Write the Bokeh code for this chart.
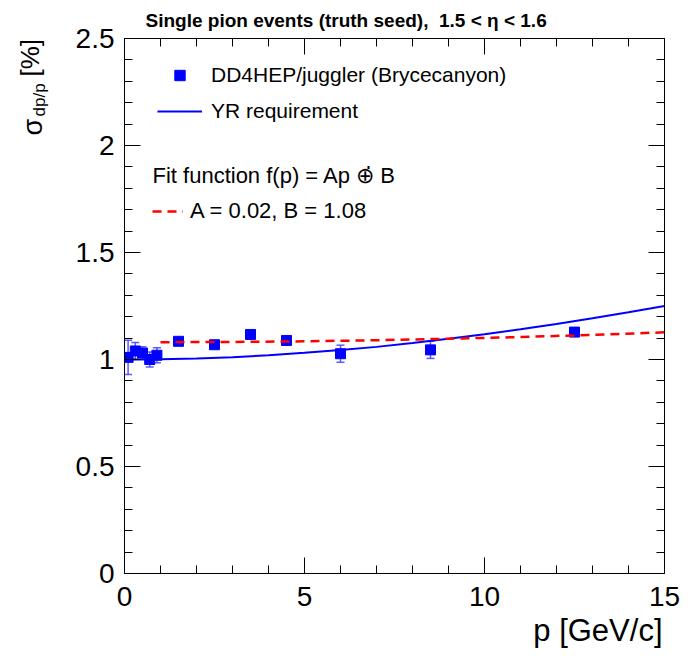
import math
from bokeh.plotting import figure
from bokeh.layouts import row
from bokeh.models import (Range1d, LinearAxis, FixedTicker, CustomJSTickFormatter,
                          Whisker, ColumnDataSource, TeeHead, Legend, LegendItem, Label, Title)
from bokeh.core.properties import value
from bokeh.embed import file_html
from bokeh.resources import INLINE

# ---------------- data ----------------
p_vals = [0.1, 0.3, 0.5, 0.7, 0.9, 1.5, 2.5, 3.5, 4.5, 6.0, 8.5, 12.5]
sigma_vals = [1.01, 1.04, 1.03, 1.00, 1.02, 1.085, 1.069, 1.117, 1.089, 1.027, 1.045, 1.128]
sigma_err = [0.08, 0.04, 0.03, 0.035, 0.035, 0.01, 0.01, 0.01, 0.01, 0.04, 0.04, 0.015]

yr_p = [0, 1, 2, 3, 4, 5, 6, 7, 8, 9, 10, 11, 12, 13, 14, 15]
yr_vals = [1.000, 1.001, 1.005, 1.011, 1.020, 1.031, 1.044, 1.059, 1.077, 1.097,
           1.118, 1.141, 1.166, 1.193, 1.221, 1.250]

fit_p = [1, 3, 5, 7, 9, 11, 13, 15]
fit_vals = [1.081, 1.082, 1.085, 1.090, 1.097, 1.105, 1.115, 1.127]

x_ticks = [0, 5, 10, 15]
x_minor = [0, 1, 2, 3, 4, 5, 6, 7, 8, 9, 10, 11, 12, 13, 14, 15]
x_tick_labels = ["0", "5", "10", "15"]
y_ticks = [0, 0.5, 1.0, 1.5, 2.0, 2.5]
y_minor = [i / 10 for i in range(26)]
y_tick_labels = ["0", "0.5", "1", "1.5", "2", "2.5"]

title_text = "Single pion events (truth seed),\u00a0 1.5 < \u03b7 < 1.6"
x_title = "p [GeV/c]"
y_title_parts = ["\u03c3", "dp/p", "[%]"]
legend_labels = ["DD4HEP/juggler (Brycecanyon)", "YR requirement"]
fit_text = "Fit function f(p) = Ap \u2295\u0307 B"
fit_label = "A = 0.02, B = 1.08"

FONT = "Liberation Sans"
TOTAL_H = 659
LEFT_W = 60
FRAME_TOP = 38
FRAME_BOTTOM = 573

# ---------------- main figure ----------------
p = figure(width=620, height=TOTAL_H, x_range=Range1d(0, 15), y_range=Range1d(0, 2.5),
           output_backend="svg", toolbar_location=None,
           min_border_left=124 - LEFT_W, min_border_right=16,
           min_border_top=FRAME_TOP, min_border_bottom=TOTAL_H - FRAME_BOTTOM)
p.xgrid.visible = False
p.ygrid.visible = False
p.outline_line_color = "black"
p.outline_line_width = 1
p.background_fill_color = "white"
p.border_fill_color = "white"


def style_axis(ax, ticks, minor, labels=None, standoff=10):
    ax.ticker = FixedTicker(ticks=ticks, minor_ticks=minor)
    ax.major_tick_in = 16
    ax.major_tick_out = 0
    ax.minor_tick_in = 8
    ax.minor_tick_out = 0
    ax.axis_line_color = "black"
    ax.axis_line_width = 1
    ax.major_tick_line_color = "black"
    ax.minor_tick_line_color = "black"
    ax.major_label_text_font = FONT
    ax.major_label_text_color = "black"
    ax.major_label_standoff = standoff
    if labels is not None:
        ax.formatter = CustomJSTickFormatter(
            args=dict(tv=ticks, labels=labels),
            code="const i = tv.indexOf(tick); return i >= 0 ? labels[i] : '';")
        ax.major_label_text_font_size = "28px"
    else:
        ax.formatter = CustomJSTickFormatter(code="return '';")
        ax.major_label_text_font_size = "1px"


style_axis(p.xaxis[0], x_ticks, x_minor, x_tick_labels, standoff=13)
style_axis(p.yaxis[0], y_ticks, y_minor, y_tick_labels, standoff=10)
top_ax = LinearAxis()
right_ax = LinearAxis()
style_axis(top_ax, x_ticks, x_minor, None, standoff=0)
style_axis(right_ax, y_ticks, y_minor, None, standoff=0)
p.add_layout(top_ax, "above")
p.add_layout(right_ax, "right")

# titles
p.add_layout(Title(text=title_text, align="left", offset=21, standoff=15,
                   text_font=FONT, text_font_size="19px", text_font_style="bold",
                   text_color="black"), "above")
p.add_layout(Title(text=x_title, align="right", offset=2, standoff=4,
                   text_font=FONT, text_font_size="31px", text_font_style="normal",
                   text_color="black"), "below")

# ---------------- glyphs ----------------
src = ColumnDataSource(dict(
    p=p_vals, s=sigma_vals,
    lo=[s - e for s, e in zip(sigma_vals, sigma_err)],
    hi=[s + e for s, e in zip(sigma_vals, sigma_err)]))

err_col = "#4040ff"
whisk = Whisker(source=src, base="p", upper="hi", lower="lo",
                line_color=err_col, line_width=1.5, line_alpha=0.85,
                upper_head=TeeHead(size=8, line_color=err_col, line_width=1.5, line_alpha=0.85),
                lower_head=TeeHead(size=8, line_color=err_col, line_width=1.5, line_alpha=0.85))
p.add_layout(whisk)

yr = p.line(yr_p, yr_vals, line_color="blue", line_width=2)
pts = p.scatter("p", "s", source=src, marker="square", size=10,
                fill_color="blue", line_color="blue")
fit = p.line(fit_p, fit_vals, line_color="red", line_width=2.5, line_dash="9 6")

# ---------------- legends ----------------
leg1 = Legend(items=[LegendItem(label=legend_labels[0], renderers=[pts]),
                     LegendItem(label=legend_labels[1], renderers=[yr])],
              location=(33, 449), glyph_width=45, glyph_height=26, label_height=26,
              spacing=10, label_standoff=9, padding=0, margin=0,
              border_line_color=None, background_fill_alpha=0,
              label_text_font=FONT, label_text_font_size="21px", label_text_color="black")
p.add_layout(leg1)

leg2 = Legend(items=[LegendItem(label=fit_label, renderers=[fit])],
              location=(28, 349), glyph_width=31, glyph_height=20, label_height=20,
              spacing=0, label_standoff=7, padding=0, margin=0,
              border_line_color=None, background_fill_alpha=0,
              label_text_font=FONT, label_text_font_size="22px", label_text_color="black")
p.add_layout(leg2)

p.add_layout(Label(x=28, y=398, x_units="screen", y_units="screen", text=fit_text,
                   text_font=FONT, text_font_size="22px", text_baseline="middle",
                   text_color="black"))

# ---------------- y-axis title panel (sigma_{dp/p} [%]) ----------------
# this panel's frame is aligned with the main frame; its y range runs in page pixels
yl = figure(width=LEFT_W, height=TOTAL_H, x_range=Range1d(0, LEFT_W),
            y_range=Range1d(FRAME_BOTTOM, FRAME_TOP),
            output_backend="svg", toolbar_location=None, min_border=0)
yl.axis.visible = False
yl.xgrid.visible = False
yl.ygrid.visible = False
yl.outline_line_color = None
yl.background_fill_color = "white"
yl.border_fill_color = "white"
yl_src = ColumnDataSource(dict(
    x=[32, 39, 29],
    y=[135, 116, 76],
    t=y_title_parts,
    fs=["27px", "17px", "26px"]))
yl.text(x="x", y="y", text="t", source=yl_src, angle=math.pi / 2,
        text_font=value(FONT), text_font_size="fs", text_align="left",
        text_baseline="alphabetic", text_color="black")

layout = row(yl, p, spacing=0)
open("out.html", "w").write(file_html(layout, INLINE))
